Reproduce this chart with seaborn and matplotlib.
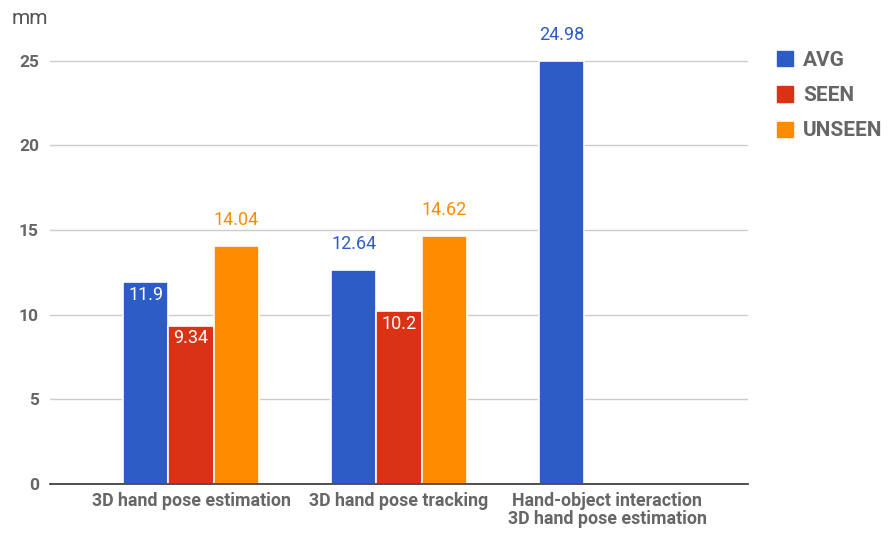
import matplotlib
matplotlib.use("Agg")
import matplotlib.pyplot as plt
import seaborn as sns
import pandas as pd

categories = ["3D hand pose estimation", "3D hand pose tracking",
              "Hand-object interaction\n3D hand pose estimation"]
series = ["AVG", "SEEN", "UNSEEN"]
avg = [11.9, 12.64, 24.98]
seen = [9.34, 10.2, None]
unseen = [14.04, 14.62, None]
yticks = [0, 5, 10, 15, 20, 25]
colors = ["#2E5CC6", "#D93215", "#FF8C00"]

rows = []
for s, vals in zip(series, [avg, seen, unseen]):
    for c, v in zip(categories, vals):
        if v is not None:
            rows.append({"cat": c, "series": s, "val": v})
df = pd.DataFrame(rows)

sns.set_theme(style="white")
plt.rcParams["font.family"] = ["Roboto", "DejaVu Sans"]

fig = plt.figure(figsize=(8.88, 5.33), dpi=100)
ax = fig.add_axes([50/888, 1-484/533, 698/888, (484-20)/533])

sns.barplot(data=df, x="cat", y="val", hue="series", order=categories,
            hue_order=series, palette=colors, saturation=1, width=0.65, ax=ax,
            edgecolor="white", linewidth=1.2, legend=False)

ax.set_xlim(-0.678, 2.678)
ax.set_ylim(0, 27.4)
ax.set_yticks(yticks)
ax.set_yticklabels([str(t) for t in yticks], fontsize=12.5, fontweight="bold", color="#666666")
ax.tick_params(axis="y", length=0, pad=8)
ax.tick_params(axis="x", length=0, pad=6)
for lbl in ax.get_xticklabels():
    lbl.set_fontsize(12.8)
    lbl.set_fontweight("bold")
    lbl.set_color("#666666")
    lbl.set_linespacing(1.0)
ax.set_xlabel("")
ax.set_ylabel("")
ax.grid(axis="y", color="#cccccc", linewidth=1)
ax.set_axisbelow(True)
for sp in ["top", "right", "left"]:
    ax.spines[sp].set_visible(False)
ax.spines["bottom"].set_color("#333333")
ax.spines["bottom"].set_linewidth(1.2)

# value labels
inside = {("AVG", 0), ("SEEN", 0), ("SEEN", 1)}
for si, (s, cont) in enumerate(zip(series, ax.containers)):
    vals = [avg, seen, unseen][si]
    vals = [v for v in vals if v is not None]
    for ci, (bar, v) in enumerate(zip(cont.patches, vals)):
        x = bar.get_x() + bar.get_width() / 2
        h = bar.get_height()
        txt = f"{v:g}"
        if (s, ci) in inside:
            ax.text(x, h - 0.2, txt, ha="center", va="top", color="white",
                    fontsize=13, clip_on=False)
        else:
            ax.text(x, h + 1.0, txt, ha="center", va="bottom", color=colors[si],
                    fontsize=13, clip_on=False)

fig.text(12/888, 1-19/533, "mm", fontsize=15, color="#555555", va="center", ha="left")

# legend
from matplotlib.patches import Patch
handles = [Patch(facecolor=c, edgecolor=c) for c in colors]
fig.legend(handles, series, loc="upper left", bbox_to_anchor=(777/888, 1-51/533),
           frameon=False, prop={"weight": "bold", "size": 15}, labelcolor="#666666",
           handlelength=0.75, handleheight=0.75, handletextpad=0.5, labelspacing=0.78,
           borderpad=0, borderaxespad=0)

fig.savefig("out.png", dpi=100)
